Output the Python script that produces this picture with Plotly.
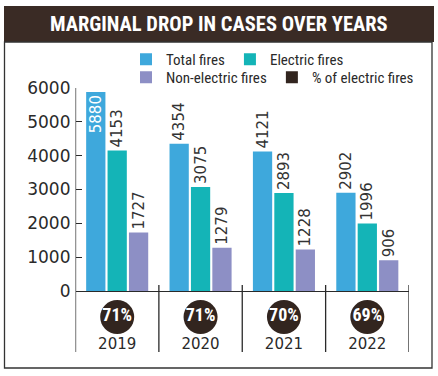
import plotly.graph_objects as go

years = ["2019", "2020", "2021", "2022"]
total_fires = [5880, 4354, 4121, 2902]
electric_fires = [4153, 3075, 2893, 1996]
non_electric_fires = [1727, 1279, 1228, 906]
pct_electric = ["71%", "71%", "70%", "69%"]
y_ticks = [0, 1000, 2000, 3000, 4000, 5000, 6000]

W, H = 438, 376
def py(p):
    return (H - p) / H
def px(p):
    return p / W

C_TOTAL = "#3ea8dc"
C_ELEC = "#14b4b7"
C_NON = "#8d8fc5"
C_DARK = "#32251f"
NUM_FONT = "DejaVu Sans"
NARROW = "Roboto Condensed, Liberation Sans Narrow, Liberation Sans"

fig = go.Figure()

def bar(name, vals, color, legend, positions=None):
    return go.Bar(
        x=years, y=vals, name=name, marker=dict(color=color, line=dict(width=0)),
        text=[str(v) for v in vals], texttemplate="%{text}",
        textposition=positions or "outside", textangle=-90,
        insidetextanchor="end", constraintext="none", cliponaxis=False,
        insidetextfont=dict(family=NUM_FONT, size=15, color="white"),
        outsidetextfont=dict(family=NUM_FONT, size=15, color="#333333"),
        legend=legend, hoverinfo="skip",
    )

fig.add_trace(bar("Total fires", total_fires, C_TOTAL, "legend",
                  ["inside", "outside", "outside", "outside"]))
fig.add_trace(bar("Electric fires", electric_fires, C_ELEC, "legend"))
fig.add_trace(bar("Non-electric fires", non_electric_fires, C_NON, "legend2"))
# legend entry for the percentage circles
fig.add_trace(go.Scatter(x=[None], y=[None], xaxis="x", yaxis="y2", mode="markers",
                         name="% of electric fires",
                         marker=dict(symbol="square", size=12, color=C_DARK),
                         legend="legend2", hoverinfo="skip"))

# circles with percentage
fig.add_trace(go.Scatter(
    x=years, y=[0.574] * 4, xaxis="x", yaxis="y2", mode="markers+text",
    marker=dict(size=34, color=C_DARK, line=dict(width=0)),
    text=pct_electric, textposition="middle center",
    textfont=dict(family=NARROW, size=18, color="white", weight="bold"),
    showlegend=False, hoverinfo="skip", cliponaxis=False,
))
# year labels
fig.add_trace(go.Scatter(
    x=years, y=[0.11] * 4, xaxis="x", yaxis="y2", mode="text",
    text=years, textposition="middle center",
    textfont=dict(family=NUM_FONT, size=15, color="#2a2a2a"),
    showlegend=False, hoverinfo="skip", cliponaxis=False,
))

shapes = []
# title band
shapes.append(dict(type="rect", xref="paper", yref="paper",
                   x0=px(4), x1=px(434), y0=py(42), y1=py(6),
                   fillcolor="#3a2b25", line=dict(width=0), layer="below"))
# outer frame
shapes.append(dict(type="rect", xref="paper", yref="paper",
                   x0=px(4.5), x1=px(432), y0=py(368), y1=py(42),
                   fillcolor="rgba(0,0,0,0)", line=dict(color="#333333", width=1.3)))
# y-axis line extended below
shapes.append(dict(type="line", xref="x", yref="paper",
                   x0=-0.5, x1=-0.5, y0=py(352), y1=py(88),
                   line=dict(color="#2a2a2a", width=1.3)))
# category separators
for xs in [0.5, 1.5, 2.5, 3.5]:
    shapes.append(dict(type="line", xref="x", yref="paper",
                       x0=xs, x1=xs, y0=py(352), y1=py(285),
                       line=dict(color="#2a2a2a", width=1.3)))

leg_common = dict(orientation="h", xanchor="left", yanchor="middle",
                  font=dict(family=NARROW, size=15, color="#2a2a2a"),
                  bgcolor="rgba(0,0,0,0)", itemwidth=30, traceorder="normal",
                  borderwidth=0)

fig.update_layout(
    width=W, height=H,
    margin=dict(l=0, r=0, t=0, b=0, autoexpand=False),
    paper_bgcolor="white", plot_bgcolor="rgba(0,0,0,0)",
    barmode="group", bargap=0.23, bargroupgap=0.1,
    shapes=shapes,
    xaxis=dict(type="category", domain=[px(75.5), px(409)], range=[-0.5, 3.5],
               showticklabels=False, ticks="", showgrid=False, zeroline=False,
               showline=True, linecolor="#2a2a2a", linewidth=1.3, anchor="y",
               automargin=False),
    yaxis=dict(domain=[py(291), py(88)], range=[0, 6000], tickvals=y_ticks,
               ticks="inside", ticklen=6, tickcolor="#2a2a2a", tickwidth=1.2,
               showgrid=False, zeroline=False, showline=False,
               tickfont=dict(family=NUM_FONT, size=17, color="#2a2a2a"),
               ticklabelstandoff=4, anchor="x", automargin=False),
    yaxis2=dict(domain=[py(352), py(291)], range=[0, 1], visible=False, anchor="x"),
    legend=dict(x=px(126), y=py(59.5), **leg_common),
    legend2=dict(x=px(126), y=py(77.5), **leg_common),
    annotations=[dict(text="<b>MARGINAL DROP IN CASES OVER YEARS</b>",
                      xref="paper", yref="paper", x=0.5, y=py(24.5),
                      xanchor="center", yanchor="middle", showarrow=False,
                      font=dict(family=NARROW, size=20.5, color="white"))],
)

fig.write_html("out.html", config={"displayModeBar": False},
               post_script="document.body.style.margin='0';")
